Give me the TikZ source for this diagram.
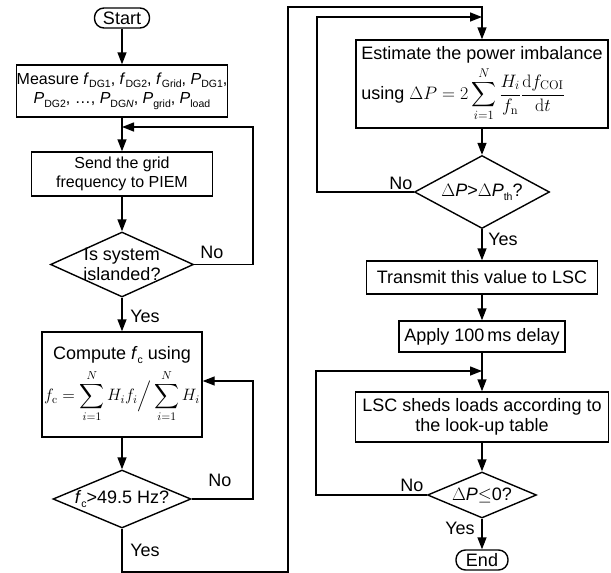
\RequirePackage{fix-cm}
\documentclass[tikz,border=0pt]{standalone}
\usepackage{amsmath}
\usepackage[no-math]{fontspec}
\setmainfont{Liberation Sans}
\usetikzlibrary{arrows.meta,shapes.geometric,calc}
\newcommand{\sbs}[1]{\raisebox{-0.22em}{\fontsize{10.5}{11}\selectfont #1}}
\tikzset{
  ln/.style={line width=1.4pt},
  arr/.style={ln,-{Triangle[length=12pt,width=9pt]}},
  procbox/.style={draw,ln,rectangle,inner sep=0pt,align=center},
  term/.style={draw,ln,rectangle,rounded corners=9.5pt,inner sep=0pt,minimum height=20pt},
  dia/.style={draw,ln,diamond,inner sep=0pt},
  lbl/.style={inner sep=0pt},
  smallfont/.style={font=\fontsize{16}{19.5}\selectfont},
}
\begin{document}
\begin{tikzpicture}[x=1pt,y=-1pt,font=\fontsize{18}{20.5}\selectfont]
\useasboundingbox (0,0) rectangle (611,573);
% left column
\node[term,minimum width=55pt] (start) at (122,18) {Start};
\node[procbox,smallfont,minimum width=211pt,minimum height=52pt] (meas) at (122,91)
  {Measure \textit{f}\sbs{DG1}, \textit{f}\sbs{DG2}, \textit{f}\sbs{Grid}, \textit{P}\sbs{DG1},\\
   \textit{P}\sbs{DG2}, \dots, \textit{P}\sbs{DG\textit{N}}, \textit{P}\sbs{grid}, \textit{P}\sbs{load}};
\node[procbox,smallfont,minimum width=181pt,minimum height=44pt] (send) at (122,174)
  {Send the grid\\frequency to PIEM};
\node[dia,minimum width=143pt,minimum height=65pt,
  label={[align=center]center:{Is system\\islanded?}}] (isl) at (122,264.5) {};
\node[procbox,minimum width=160pt,minimum height=105pt] (comp) at (122,384.5)
  {Compute \textit{f}\sbs{c} using\\[5pt]
   {\fontsize{16.5}{19}\selectfont$\displaystyle f_{\mathrm{c}}=\sum_{i=1}^{N}H_i f_i\Big/\sum_{i=1}^{N}H_i$}};
\node[dia,minimum width=138pt,minimum height=58pt,
  label={center:{\textit{f}\sbs{c}>49.5 Hz?}}] (fc) at (122,499) {};
% right column
\node[procbox,align=left,minimum width=252pt,minimum height=88pt] (est) at (482,84)
  {Estimate the power imbalance\\[3pt]
   using $\displaystyle \Delta P=2\sum_{i=1}^{N}\frac{H_i}{f_{\mathrm{n}}}\frac{\mathrm{d}f_{\mathrm{COI}}}{\mathrm{d}t}$};
\node[dia,minimum width=135pt,minimum height=73pt,
  label={center:{$\Delta$\textit{P}>$\Delta$\textit{P}\sbs{th}?}}] (dpth) at (482,192) {};
\node[procbox,minimum width=231pt,minimum height=33pt] (trans) at (482,277.5)
  {Transmit this value to LSC};
\node[procbox,minimum width=166pt,minimum height=31pt] (delay) at (482,336.5)
  {Apply 100\,ms delay};
\node[procbox,minimum width=253pt,minimum height=50pt] (lsc) at (482,417)
  {LSC sheds loads according to\\the look-up table};
\node[dia,minimum width=109pt,minimum height=46pt,
  label={center:{$\Delta$\textit{P}$\leq$0?}}] (dp0) at (482,495) {};
\node[term,minimum width=52pt] (end) at (482,560) {End};
% coordinates
\coordinate (m1) at (122,127);
\coordinate (f1) at (253,127);
\coordinate (f2) at (253,381);
\coordinate (b1) at (288,572);
\coordinate (b2) at (288,7);
\coordinate (m2) at (482,17);
\coordinate (f3) at (317,17);
\coordinate (m3) at (482,371);
\coordinate (f4) at (316,371);
% connectors left
\draw[arr] (start) -- (meas);
\draw[arr] (meas) -- (send);
\draw[arr] (send) -- (isl);
\draw[arr] (isl) -- (comp);
\draw[arr] (comp) -- (fc);
\draw[arr] (isl.east) -| (f1) -- (m1);
\draw[arr] (fc.east) -| (f2) -- (comp.east |- f2);
\draw[arr] (fc.south) |- (b1) -- (b2) -| (est.north);
% connectors right
\draw[arr] (dpth.west) -| (f3) -- (m2);
\draw[arr] (est) -- (dpth);
\draw[arr] (dpth) -- (trans);
\draw[arr] (trans) -- (delay);
\draw[arr] (delay) -- (lsc);
\draw[arr] (dp0.west) -| (f4) -- (m3);
\draw[arr] (lsc) -- (dp0);
\draw[arr] (dp0) -- (end);
% labels
\node[lbl] (no1) at (212,252) {No};
\node[lbl] (yes1) at (145,316) {Yes};
\node[lbl] (no2) at (220,480) {No};
\node[lbl] (yes2) at (145,550) {Yes};
\node[lbl] (no3) at (401,183) {No};
\node[lbl] (yes3) at (503,239) {Yes};
\node[lbl] (no4) at (412,485) {No};
\node[lbl] (yes4) at (460,528) {Yes};
\end{tikzpicture}
\end{document}
